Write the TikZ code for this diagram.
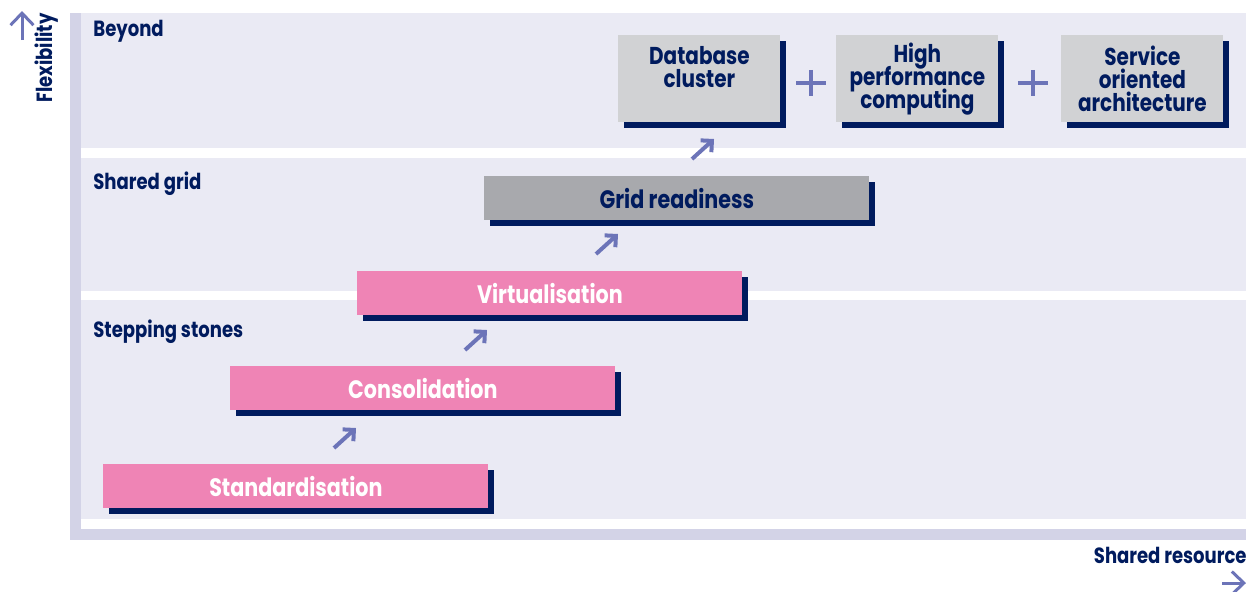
\documentclass[tikz,border=0pt]{standalone}
\usepackage{fontspec}
\setmainfont{Poppins}[FakeStretch=0.82]
\usetikzlibrary{arrows.meta, calc, shadows}
\definecolor{mynavy}{RGB}{0,27,94}
\definecolor{mypink}{RGB}{239,132,181}
\definecolor{mygrey}{RGB}{209,210,212}
\definecolor{mydarkgrey}{RGB}{168,169,173}
\definecolor{myband}{RGB}{234,234,244}
\definecolor{mystrip}{RGB}{211,211,231}
\definecolor{myarrow}{RGB}{108,116,184}
\newcommand{\tightskip}{\lineskiplimit -20pt\relax}

\begin{document}
\begin{tikzpicture}[x=0.5pt,y=-0.5pt,
stepbox/.style={fill=mypink, text=white, font=\bfseries\fontsize{12.6}{12}\selectfont, minimum width=192.5pt, minimum height=22pt, inner sep=0pt, anchor=north west, drop shadow={shadow xshift=2.75pt, shadow yshift=-3pt, fill=mynavy, opacity=1}},
gridbox/.style={fill=mydarkgrey, text=mynavy},
topbox/.style={stepbox, fill=mygrey, text=mynavy, minimum width=81pt, minimum height=43.5pt, align=center, font={\bfseries\fontsize{12.2}{11.5}\selectfont\tightskip}},
bandlabel/.style={text=mynavy, font=\bfseries\fontsize{11}{11}\selectfont, anchor=base west, inner sep=0pt},
steparrow/.style={draw=myarrow, line width=2pt, -{Straight Barb[length=4pt,width=8pt]}},
axisarrow/.style={draw=myarrow, line width=1.5pt, -{Straight Barb[length=6pt,width=11.5pt]}},
plus/.style={draw=myarrow, line width=2pt}
]
\useasboundingbox (0,0) rectangle (1246,591);

% axes and bands
\fill[mystrip] (70,13) rectangle (81,540);
\fill[mystrip] (70,529) rectangle (1246,540);
\fill[myband] (81,13) rectangle (1246,148);
\fill[myband] (81,158) rectangle (1246,291);
\fill[myband] (81,300) rectangle (1246,519);

\node[bandlabel] (beyond) at (93,36) {Beyond};
\node[bandlabel] (grid band) at (93,189) {Shared grid};
\node[bandlabel] (stones) at (93,337) {Stepping stones};

\coordinate (yfoot) at (22,40);
\draw[axisarrow] (yfoot) -- ++(0,-29);
\node[bandlabel, anchor=center, rotate=90] (flex) at (47,58) {Flexibility};
\coordinate (xfoot) at (1222,583);
\draw[axisarrow] (xfoot) -- ++(24,0);
\node[bandlabel, anchor=base east] (res) at (1247,563) {Shared resource};

% steps
\node[stepbox] (std) at (103,464) {Standardisation};
\node[stepbox] (cons) at (230,366) {Consolidation};
\node[stepbox] (virt) at (357,271) {Virtualisation};
\node[stepbox, gridbox] (grid) at (484,176) {Grid readiness};

\node[topbox] (db) at (618,35) {Database\\cluster\\\mbox{}};
\node[topbox] (hpc) at (836,35) {High\\performance\\computing};
\node[topbox] (soa) at (1061,35) {Service\\oriented\\architecture};

\draw[plus] ($(db.east)!0.5!(hpc.west)+(3,4)$) ++(-15,0) -- ++(30,0) ++(-15,-13) -- ++(0,26);
\draw[plus] ($(hpc.east)!0.5!(soa.west)+(3,4)$) ++(-15,0) -- ++(30,0) ++(-15,-13) -- ++(0,26);

\draw[steparrow] ($(std.north west)+(231,-16)$) -- ++(22,-20);
\draw[steparrow] ($(cons.north west)+(235,-16)$) -- ++(22,-20);
\draw[steparrow] ($(virt.north west)+(239,-17)$) -- ++(22,-20);
\draw[steparrow] ($(grid.north west)+(208,-17)$) -- ++(22,-20);

\end{tikzpicture}
\end{document}
